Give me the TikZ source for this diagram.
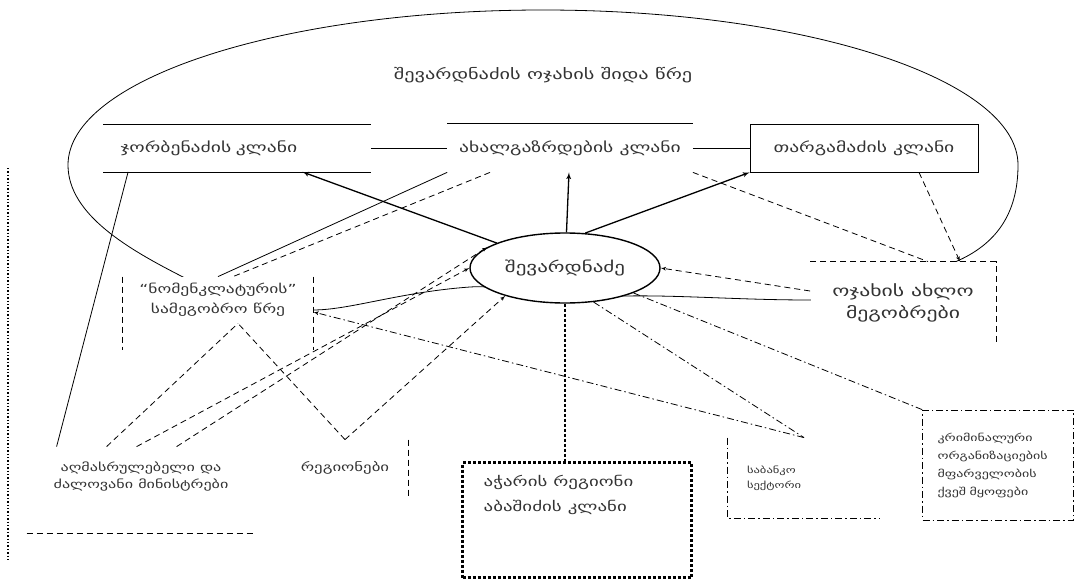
\documentclass[tikz,border=0pt]{standalone}
\usepackage{fontspec}
\setmainfont{DejaVu Sans}[FakeStretch=1.4]
\usepackage{tikz}
\usepackage{xcolor}
\usetikzlibrary{arrows}
\usetikzlibrary{positioning}
\usetikzlibrary{shapes.geometric}

\tikzset{
	lbl/.style={text=black!80, align=center, inner sep=0pt},
	sz/.style 2 args={font=\fontsize{#1}{#2}\selectfont},
	grp/.style 2 args={lbl, minimum width=#1, minimum height=#2},
	pull/.style={-latex', line width=1.3pt},
	dsh/.style={dashed, dash pattern=on 6pt off 4pt},
	dshdot/.style={dash pattern=on 7pt off 3pt on 1.5pt off 3pt},
	heavydot/.style={line width=2.4pt, dash pattern=on 3pt off 2pt}
}

\begin{document}
\begin{tikzpicture}[x=1pt, y=-1pt, line width=0.8pt]
				\useasboundingbox (0,0) rectangle (1081,583);
				\draw (68,165) arc[start angle=180, end angle=360, x radius=475, y radius=155] .. controls (1018,215) and (995,245) .. (955,262) .. controls (900,290) and (860,300) .. (810,300) .. controls (740,300) and (680,295) .. (625,296) .. controls (560,296) and (500,285) .. (470,287) .. controls (400,292) and (350,310) .. (313,310) .. controls (260,310) and (215,295) .. (183,277) .. controls (130,250) and (68,215) .. (68,165) -- cycle;
				\node[lbl, sz={14.5}{18}] (title) at (543,75) {შევარდნაძის ოჯახის შიდა წრე};
				\node[grp={267}{47}, sz={14}{18}, text width=233pt, inner xsep=17pt, align=left] (jorb) at (237,148) {ჯორბენაძის კლანი};
				\node[grp={245}{48}, sz={14}{18}] (axal) at (570,148) {ახალგაზრდების კლანი};
				\node[grp={228}{48}, sz={14}{18}, draw] (targ) at (864,148) {თარგამაძის კლანი};
				\node[draw, fill=white, ellipse, line width=1.4pt, minimum width=190, minimum height=70, lbl, sz={15}{18}] (shev) at (565,268) {შევარდნაძე};
				\node[grp={190}{46}, fill=white, sz={12.5}{20}] (nomen) at (218,300) {“ნომენკლატურის”\\სამეგობრო წრე};
				\node[grp={185}{82}, fill=white, sz={15.5}{22}] (friends) at (903,303) {ოჯახის ახლო\\მეგობრები};
				\node[grp={228}{60}, sz={11.5}{17}] (exec) at (141,477) {აღმასრულებელი და\\ძალოვანი მინისტრები};
				\node[grp={126}{56}, sz={12}{15}] (regi) at (345,468) {რეგიონები};
				\node[grp={229}{115}, draw, heavydot] (adjara) at (577,520) {};
				\node[lbl, sz={13.5}{25}, align=left, below right=14pt and 22pt of adjara.north west] (adjaratxt) {აჭარის რეგიონი\\აბაშიძის კლანი};
				\node[grp={152}{80}, sz={9}{15}, text width=114pt, inner xsep=19pt, align=left] (bank) at (804,478) {საბანკო\\სექტორი};
				\node[grp={151}{110}, sz={10}{18}, text width=121pt, inner xsep=15pt, align=left, draw, dshdot] (crim) at (998,465) {კრიმინალური\\ორგანიზაციების\\მფარველობის\\ქვეშ მყოფები};
				\draw (jorb.north west) -- (jorb.north east);
				\draw (jorb.south west) -- (jorb.south east);
				\draw (axal.north west) -- (axal.north east);
				\draw (jorb.east) -- (axal.west);
				\draw (axal.east) -- (targ.west);
				\draw[dsh] (nomen.north west) -- ([yshift=-27pt]nomen.south west);
				\draw[dsh] (nomen.north east) -- ([yshift=-27pt]nomen.south east);
				\draw[dsh] (friends.north west) -- (friends.north east) -- (friends.south east);
				\draw[dsh] ([yshift=-26pt]exec.south west) -- ([yshift=-26pt]exec.south east);
				\draw[dsh] (regi.north east) -- (regi.south east);
				\draw[dshdot] (bank.north west) -- (bank.south west) -- (bank.south east);
				\draw[dotted, line width=1.4pt] (8,168) -- (8,562);
				\draw[pull] (shev) -- (jorb);
				\draw[pull] (shev) -- (axal);
				\draw[pull] (shev.60) -- (targ.south west);
				\draw (axal.south west) -- (nomen.north);
				\draw[dsh] ([xshift=-80pt]axal.south) -- ([xshift=15pt]nomen.north);
				\draw[dsh] (axal.south east) -- ([xshift=25pt]friends.north);
				\draw[dsh, -latex'] ([xshift=55pt]targ.south) -- ([xshift=57pt]friends.north);
				\draw[dsh, -latex'] ([yshift=12pt]friends.west) -- (shev.east);
				\draw (jorb.south west) ++(25,0) coordinate (jorbfoot);
				\draw (jorbfoot) -- ([xshift=30pt]exec.north west);
				\draw[dsh] ([xshift=80pt]exec.north west) -- ([xshift=20pt]nomen.south);
				\draw[dsh, -latex'] ([xshift=110pt]exec.north west) -- (shev.west);
				\draw[dsh, -latex'] ([xshift=150pt]exec.north west) -- (shev.165);
				\draw[dsh] (regi.north) -- ([xshift=20pt]nomen.south);
				\draw[dsh, -latex'] (regi.north) -- (shev.205);
				\draw[heavydot] (shev.south) -- (shev.south |- adjara.north);
				\draw[dshdot] (shev.-50) -- (bank.north);
				\draw[dshdot, -latex'] (bank.north) -- ([yshift=-12pt]nomen.east);
				\draw[dshdot] (shev.-20) -- (crim.north west);
			\end{tikzpicture}
\end{document}
